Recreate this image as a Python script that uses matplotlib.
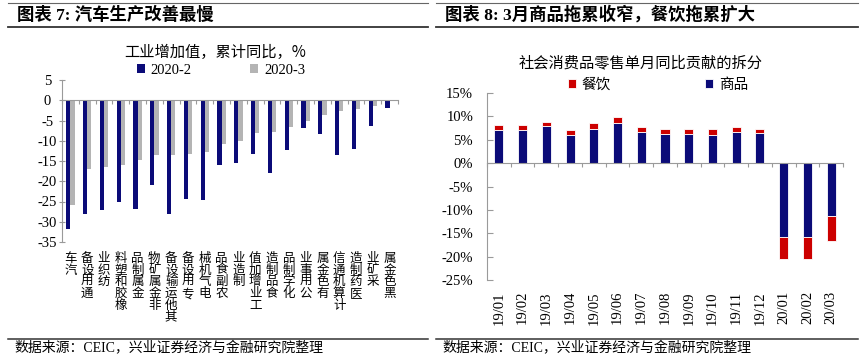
import numpy as np
import matplotlib
matplotlib.use('Agg')
import matplotlib.pyplot as plt
from matplotlib.lines import Line2D
from matplotlib.ticker import FuncFormatter, MultipleLocator

plt.rcParams['font.family'] = ['Liberation Serif', 'Noto Sans CJK SC']
plt.rcParams['axes.unicode_minus'] = False

# 图表7: 工业增加值累计同比 (%)
industries = ['汽车', '通用设备', '纺织业', '橡胶和塑料', '金属制品', '非金属矿物',
              '其他运输设备', '专用设备', '电气机械', '农副食品', '制造业', '工业增加值',
              '食品制造', '化学制品', '公用事业', '有色金属', '计算机通信', '医药制造',
              '采矿业', '黑色金属']
ip_feb = [-31.7, -28.0, -27.0, -25.1, -26.8, -20.9, -28.0, -24.3, -24.6, -16.0,
          -15.6, -13.3, -18.0, -12.2, -6.9, -8.4, -13.6, -12.1, -6.3, -1.9]
ip_mar = [-25.8, -17.0, -16.6, -16.1, -14.7, -13.6, -13.6, -13.2, -12.7, -10.8,
          -10.1, -8.2, -7.8, -6.5, -5.0, -3.6, -2.6, -2.2, -1.5, -0.2]

# 图表8: 社零单月同比贡献拆分 (%)
months = ['19/01', '19/02', '19/03', '19/04', '19/05', '19/06', '19/07', '19/08',
          '19/09', '19/10', '19/11', '19/12', '20/01', '20/02', '20/03']
goods = [7.0, 7.0, 7.9, 6.0, 7.4, 8.6, 6.6, 6.3, 6.3, 6.1, 6.6, 6.5, -15.7, -15.7, -11.4]
catering = [1.1, 1.1, 1.0, 1.0, 1.1, 1.2, 1.1, 1.1, 1.1, 1.1, 1.2, 0.9, -4.8, -4.8, -5.2]

NAVY = '#0b0b78'
GREY = '#b4b4b4'
RED = '#cc0000'
AXIS = '#9a9a9a'
W, H = 867, 358

fig = plt.figure(figsize=(W / 100, H / 100), dpi=100)


def fx(px):
    return px / W


def fy(px):
    return 1 - px / H


def hline(x0, x1, y, lw, color):
    fig.add_artist(Line2D([fx(x0), fx(x1)], [fy(y), fy(y)], lw=lw, color=color))


# headers and footers
for x0, x1, title in [(8, 428, '图表 7: 汽车生产改善最慢'),
                      (436, 858, '图表 8: 3月商品拖累收窄，餐饮拖累扩大')]:
    hline(x0, x1, 3, 0.8, '#666666')
    hline(x0, x1, 27, 1.3, '#333333')
    hline(x0, x1, 338.5, 1.1, '#333333')
    fig.text(fx(x0 + 9), fy(15), title, fontsize=12.5, weight='bold', va='center')
    fig.text(fx(x0 + 6), fy(348), '数据来源：CEIC，兴业证券经济与金融研究院整理',
             fontsize=10, va='center')

# ---- left chart
ax1 = fig.add_axes([fx(62), fy(242), fx(398) - fx(62), (242 - 80) / H])
x = np.arange(len(industries))
w = 0.25
b1 = ax1.bar(x - w / 2, ip_feb, w, color=NAVY, label='2020-2')
b2 = ax1.bar(x + w / 2, ip_mar, w, color=GREY, label='2020-3')
ax1.set_xlim(-0.5, len(x) - 0.5)
ax1.set_ylim(-35, 5)
ax1.yaxis.set_major_locator(MultipleLocator(5))
ax1.spines[['top', 'right']].set_visible(False)
ax1.spines['bottom'].set_position(('data', 0))
for s in ('left', 'bottom'):
    ax1.spines[s].set_color(AXIS)
ax1.set_xticks(np.arange(len(x) + 1) - 0.5)
ax1.tick_params(axis='x', labelbottom=False, length=3, color=AXIS, direction='out')
ax1.tick_params(axis='y', labelsize=10.5, length=5, color=AXIS, direction='inout', pad=8)
plt.setp(ax1.get_yticklabels(), ha='center')

sec1 = ax1.secondary_xaxis('bottom')
sec1.set_xticks(x)
sec1.set_xticklabels(['\n'.join(reversed(n)) for n in industries],
                     fontfamily='Noto Sans CJK SC', fontsize=9, linespacing=0.88)
sec1.spines['bottom'].set_visible(False)
sec1.tick_params(length=0, pad=7)

fig.text(fx(215), fy(52), '工业增加值，累计同比，%', ha='center', va='center',
         fontsize=11, fontfamily='Noto Sans CJK SC')
fig.legend(handles=[b1, b2], loc='center', bbox_to_anchor=(fx(221), fy(70)), ncol=2,
           frameon=False, fontsize=10.5, handlelength=0.55, handleheight=0.55,
           handletextpad=0.4, columnspacing=4.0)

# ---- right chart
ax2 = fig.add_axes([fx(487), fy(280), fx(843) - fx(487), (280 - 93) / H])
m = np.arange(len(months))
bw = 0.38
g = ax2.bar(m, goods, bw, color=NAVY, edgecolor='white', linewidth=0.6)
c = ax2.bar(m, catering, bw, bottom=goods, color=RED, edgecolor='white', linewidth=0.6)
ax2.set_xlim(-0.5, len(m) - 0.5)
ax2.set_ylim(-25, 15)
ax2.yaxis.set_major_locator(MultipleLocator(5))
ax2.yaxis.set_major_formatter(FuncFormatter(lambda v, p: f'{v:.0f}%'))
ax2.spines[['top', 'right']].set_visible(False)
ax2.spines['bottom'].set_position(('data', 0))
for s in ('left', 'bottom'):
    ax2.spines[s].set_color(AXIS)
ax2.set_xticks(np.arange(len(m) + 1) - 0.5)
ax2.tick_params(axis='x', labelbottom=False, length=3, color=AXIS, direction='out')
ax2.tick_params(axis='y', labelsize=10.5, length=4, color=AXIS, direction='in', pad=10)

sec2 = ax2.secondary_xaxis('bottom')
sec2.set_xticks(m)
sec2.set_xticklabels(months, rotation=90, fontsize=10.5)
sec2.spines['bottom'].set_visible(False)
sec2.tick_params(length=0, pad=8)

fig.text(fx(641), fy(63), '社会消费品零售单月同比贡献的拆分', ha='center', va='center',
         fontsize=11, fontfamily='Noto Sans CJK SC')
fig.legend(handles=[c, g], labels=['餐饮', '商品'], loc='center',
           bbox_to_anchor=(fx(658), fy(85)), ncol=2, frameon=False, fontsize=10.5,
           handlelength=0.55, handleheight=0.55, handletextpad=0.4, columnspacing=6.5)

fig.savefig('out.png', dpi=100)
